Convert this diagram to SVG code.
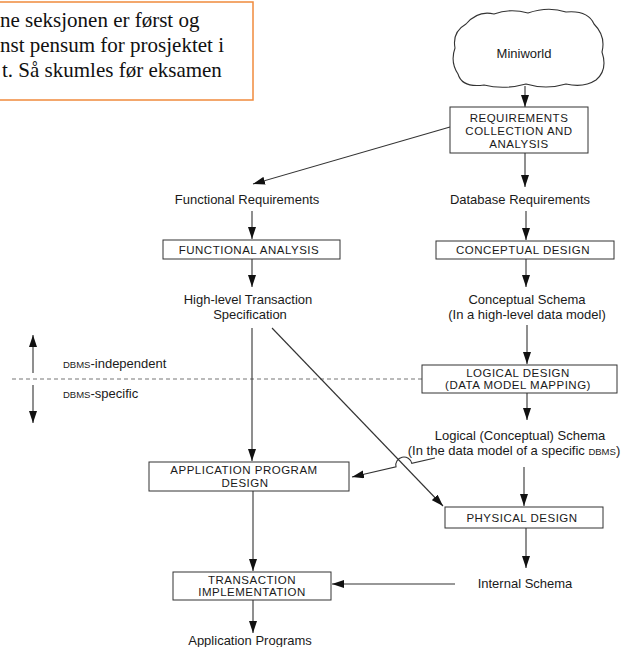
<svg xmlns="http://www.w3.org/2000/svg" width="621" height="647" viewBox="0 0 621 647">
  <style>
    .note { font-family: "Liberation Serif", "Times New Roman", serif; font-size: 21px; fill: #111; }
    .lbl { font-family: "Liberation Sans", Arial, sans-serif; font-size: 13px; fill: #1a1a1a; text-anchor: middle; }
    .cap { font-family: "Liberation Sans", Arial, sans-serif; font-size: 11.5px; letter-spacing: 0.5px; fill: #1a1a1a; text-anchor: middle; }
    .lbl-l { font-family: "Liberation Sans", Arial, sans-serif; font-size: 13px; fill: #1a1a1a; }
    .sc { font-size: 9.5px; }
    .box { fill: #fff; stroke: #333; stroke-width: 1; }
    .edge { fill: none; stroke: #333; stroke-width: 1.1; }
    .dash { fill: none; stroke: #777; stroke-width: 1.2; stroke-dasharray: 4 3; }
  </style>
  <defs>
    <marker id="arrow" markerUnits="userSpaceOnUse" markerWidth="12" markerHeight="8" refX="12" refY="4" orient="auto">
      <path d="M0,0 L12,4 L0,8 z" fill="#111"/>
    </marker>
  </defs>

  <rect width="621" height="647" fill="#fff"/>

  <!-- note box -->
  <g id="note">
    <rect x="-10" y="2" width="263" height="98" fill="#fff" stroke="#f08a3c" stroke-width="1.5"/>
    <text class="note" x="0" y="27">ne seksjonen er først og</text>
    <text class="note" x="0" y="52">nst pensum for prosjektet i</text>
    <text class="note" x="2" y="77">t. Så skumles før eksamen</text>
  </g>

  <!-- level separator -->
  <g id="separator">
    <line class="dash" x1="12" y1="379" x2="422" y2="379"/>
  </g>

  <!-- connectors -->
  <g id="connectors">
    <line class="edge" x1="525" y1="86" x2="525" y2="107" marker-end="url(#arrow)"/>
    <line class="edge" x1="450" y1="127" x2="253" y2="184" marker-end="url(#arrow)"/>
    <line class="edge" x1="525" y1="153" x2="525" y2="187" marker-end="url(#arrow)"/>
    <line class="edge" x1="252" y1="211" x2="252" y2="239" marker-end="url(#arrow)"/>
    <line class="edge" x1="252" y1="259" x2="252" y2="287" marker-end="url(#arrow)"/>
    <line class="edge" x1="526" y1="211" x2="526" y2="240" marker-end="url(#arrow)"/>
    <line class="edge" x1="526" y1="259" x2="526" y2="287" marker-end="url(#arrow)"/>
    <line class="edge" x1="527" y1="325" x2="527" y2="364" marker-end="url(#arrow)"/>
    <line class="edge" x1="527" y1="393" x2="527" y2="420" marker-end="url(#arrow)"/>
    <line class="edge" x1="252" y1="328" x2="252" y2="461" marker-end="url(#arrow)"/>
    <line class="edge" x1="272" y1="328" x2="443" y2="506" marker-end="url(#arrow)"/>
    <path class="edge" d="M435,458 L411.8,463.3 A8,8 0 0 0 396,466.9 L352,477" marker-end="url(#arrow)"/>
    <line class="edge" x1="524" y1="467" x2="524" y2="506" marker-end="url(#arrow)"/>
    <line class="edge" x1="253" y1="491" x2="253" y2="571" marker-end="url(#arrow)"/>
    <line class="edge" x1="526" y1="528" x2="526" y2="568" marker-end="url(#arrow)"/>
    <line class="edge" x1="455" y1="584" x2="332" y2="584" marker-end="url(#arrow)"/>
    <line class="edge" x1="253" y1="600" x2="253" y2="633" marker-end="url(#arrow)"/>
    <line class="edge" x1="33" y1="373" x2="33" y2="335" marker-end="url(#arrow)"/>
    <line class="edge" x1="33" y1="385" x2="33" y2="423" marker-end="url(#arrow)"/>
  </g>

  <!-- miniworld cloud -->
  <g id="miniworld">
    <path d="M466,24 Q478,10 494,14 Q510,8 528,13 Q548,6 566,12 Q588,10 594,24 Q606,36 602,52 Q608,70 596,80 Q584,88 566,84 Q546,90 526,84 Q504,90 484,85 Q462,88 458,74 Q450,62 455,48 Q452,32 466,24 Z" fill="#fff" stroke="#333" stroke-width="1.1"/>
    <text class="lbl" x="524" y="58">Miniworld</text>
  </g>

  <g id="requirements">
    <rect class="box" x="450" y="107" width="138" height="46"/>
    <text class="cap" x="519" y="122">REQUIREMENTS</text>
    <text class="cap" x="519" y="135">COLLECTION AND</text>
    <text class="cap" x="519" y="148">ANALYSIS</text>
  </g>

  <g id="functional-requirements">
    <text class="lbl" x="247" y="204">Functional Requirements</text>
  </g>

  <g id="database-requirements">
    <text class="lbl" x="520" y="204">Database Requirements</text>
  </g>

  <g id="functional-analysis">
    <rect class="box" x="163" y="240" width="177" height="19"/>
    <text class="cap" x="249" y="254">FUNCTIONAL ANALYSIS</text>
  </g>

  <g id="conceptual-design">
    <rect class="box" x="436" y="241" width="178" height="18"/>
    <text class="cap" x="523" y="254">CONCEPTUAL DESIGN</text>
  </g>

  <g id="transaction-spec">
    <text class="lbl" x="248" y="304">High-level Transaction</text>
    <text class="lbl" x="250" y="319">Specification</text>
  </g>

  <g id="conceptual-schema">
    <text class="lbl" x="527" y="304">Conceptual Schema</text>
    <text class="lbl" x="527" y="319">(In a high-level data model)</text>
  </g>

  <g id="dbms-levels">
    <text class="lbl-l" x="63" y="368"><tspan class="sc">DBMS</tspan>-independent</text>
    <text class="lbl-l" x="63" y="398"><tspan class="sc">DBMS</tspan>-specific</text>
  </g>

  <g id="logical-design">
    <rect class="box" x="422" y="365" width="195" height="28"/>
    <text class="cap" x="518" y="377">LOGICAL DESIGN</text>
    <text class="cap" x="518" y="389">(DATA MODEL MAPPING)</text>
  </g>

  <g id="logical-schema">
    <text class="lbl" x="520" y="440">Logical (Conceptual) Schema</text>
    <text class="lbl" x="514" y="455">(In the data model of a specific <tspan class="sc">DBMS</tspan>)</text>
  </g>

  <g id="application-design">
    <rect class="box" x="149" y="462" width="200" height="29"/>
    <text class="cap" x="244" y="474">APPLICATION PROGRAM</text>
    <text class="cap" x="245" y="487">DESIGN</text>
  </g>

  <g id="physical-design">
    <rect class="box" x="445" y="507" width="158" height="21"/>
    <text class="cap" x="522" y="522">PHYSICAL DESIGN</text>
  </g>

  <g id="transaction-implementation">
    <rect class="box" x="173" y="572" width="158" height="28"/>
    <text class="cap" x="252" y="584">TRANSACTION</text>
    <text class="cap" x="252" y="596">IMPLEMENTATION</text>
  </g>

  <g id="internal-schema">
    <text class="lbl" x="525" y="588">Internal Schema</text>
  </g>

  <g id="application-programs">
    <text class="lbl" x="250" y="645">Application Programs</text>
  </g>
</svg>
